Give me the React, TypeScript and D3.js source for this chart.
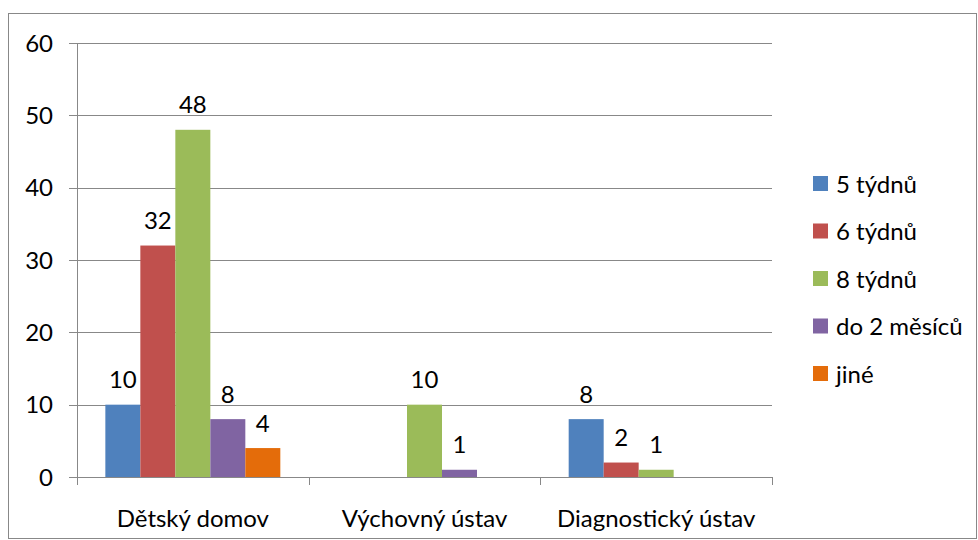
import * as React from "react";
import * as d3 from "d3";

const categories = ["Dětský domov", "Výchovný ústav", "Diagnostický ústav"];
const seriesNames = ["5 týdnů", "6 týdnů", "8 týdnů", "do 2 měsíců", "jiné"];
const seriesColors = ["#4f81bd", "#c0504d", "#9bbb59", "#8064a2", "#e46c0a"];
// values per series, one per category (null = no bar)
const values: (number | null)[][] = [
  [10, null, 8],
  [32, null, 2],
  [48, 10, 1],
  [8, 1, null],
  [4, null, null],
];
const yTicks = [0, 10, 20, 30, 40, 50, 60];

const W = 978;
const H = 540;
const font = "Lato, 'Open Sans', sans-serif";
const fs = 24;

const App: React.FC = () => {
  const left = 77;
  const right = 772;
  const top = 43;
  const bottom = 477;

  const x = d3.scaleBand().domain(categories).range([left, right]).paddingInner(0).paddingOuter(0);
  const inner = d3
    .scaleBand()
    .domain(seriesNames)
    .range([0, x.bandwidth()])
    .paddingOuter(0.81)
    .paddingInner(0);
  const y = d3.scaleLinear().domain([0, 60]).range([bottom, top]);

  return (
    <svg width={W} height={H} style={{ position: "absolute", left: 0, top: 0 }}>
      <rect x={0} y={0} width={W} height={H} fill="#fff" />
      <rect x={8.5} y={13.5} width={W - 10} height={H - 15} fill="none" stroke="#888" strokeWidth={1} />
      {yTicks.map((t) => (
        <g key={t}>
          <line x1={left - 8} x2={right} y1={Math.round(y(t)) + 0.5} y2={Math.round(y(t)) + 0.5} stroke="#888" />
          <text x={left - 24} y={y(t)} dy="0.36em" textAnchor="end" fontFamily={font} fontSize={fs} fill="#000">
            {t}
          </text>
        </g>
      ))}
      <line x1={left + 0.5} x2={left + 0.5} y1={top} y2={bottom} stroke="#888" />
      {categories.map((c, i) => (
        <g key={c}>
          <line
            x1={Math.round(x(c)! + x.bandwidth()) + 0.5}
            x2={Math.round(x(c)! + x.bandwidth()) + 0.5}
            y1={bottom}
            y2={bottom + 8}
            stroke="#888"
          />
          {i === 0 && <line x1={left + 0.5} x2={left + 0.5} y1={bottom} y2={bottom + 8} stroke="#888" />}
          <text
            x={x(c)! + x.bandwidth() / 2}
            y={518}
            dy="0.36em"
            textAnchor="middle"
            fontFamily={font}
            fontSize={fs}
            fill="#000"
          >
            {c}
          </text>
        </g>
      ))}
      {values.map((row, si) =>
        row.map((v, ci) => {
          if (v === null) return null;
          const bx = x(categories[ci])! + inner(seriesNames[si])!;
          const bw = inner.bandwidth();
          return (
            <g key={`${si}-${ci}`}>
              <rect x={bx} y={y(v)} width={bw} height={y(0) - y(v)} fill={seriesColors[si]} />
              <text
                x={bx + bw / 2}
                y={y(v) - 25}
                dy="0.36em"
                textAnchor="middle"
                fontFamily={font}
                fontSize={fs}
                fill="#000"
              >
                {v}
              </text>
            </g>
          );
        })
      )}
      {seriesNames.map((s, i) => (
        <g key={s} transform={`translate(813, ${184 + i * 47.5})`}>
          <rect x={0} y={-8} width={15} height={15} fill={seriesColors[i]} />
          <text x={23} y={0} dy="0.36em" fontFamily={font} fontSize={fs} fill="#000">
            {s}
          </text>
        </g>
      ))}
    </svg>
  );
};

export default App;
